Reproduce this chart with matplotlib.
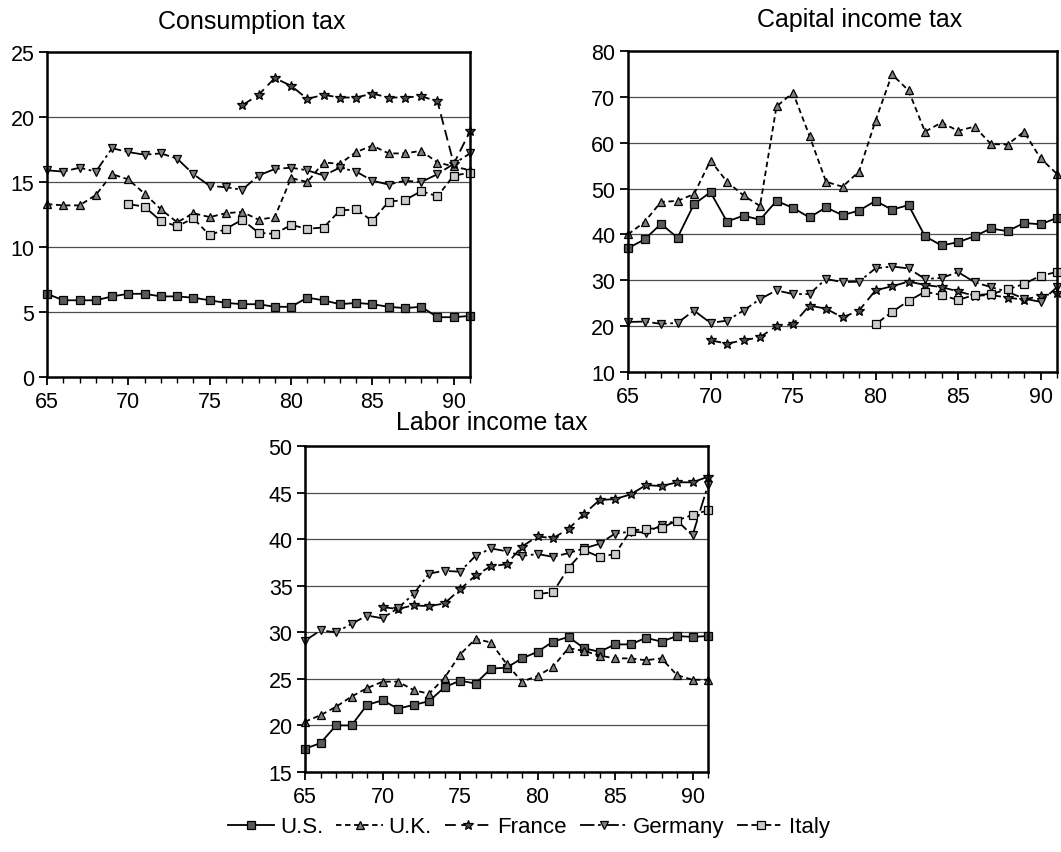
import matplotlib.pyplot as plt
import numpy as np
from matplotlib.ticker import MultipleLocator

plt.rcParams['font.family'] = ['Liberation Sans', 'DejaVu Sans']

# годы (65 = 1965)
years = np.arange(65, 92)
years_70 = np.arange(70, 92)
years_77 = np.arange(77, 92)
years_80 = np.arange(80, 92)

# Consumption tax
cons_us = [6.4, 5.9, 5.9, 5.9, 6.2, 6.4, 6.4, 6.2, 6.2, 6.1, 5.9, 5.7, 5.6, 5.6,
           5.4, 5.4, 6.1, 5.9, 5.6, 5.7, 5.6, 5.4, 5.3, 5.4, 4.6, 4.6, 4.7]
cons_uk = [13.3, 13.2, 13.2, 14.0, 15.6, 15.2, 14.1, 12.9, 11.9, 12.6, 12.3, 12.6,
           12.7, 12.1, 12.3, 15.3, 15.0, 16.5, 16.4, 17.3, 17.8, 17.2, 17.2, 17.4,
           16.5, 16.2, 15.9]
cons_fr = [20.9, 21.7, 23.0, 22.4, 21.4, 21.7, 21.5, 21.5, 21.8, 21.5, 21.5, 21.6,
           21.2, 16.4, 18.9]
cons_de = [15.9, 15.8, 16.1, 15.8, 17.6, 17.3, 17.1, 17.2, 16.8, 15.6, 14.7, 14.6,
           14.4, 15.5, 16.0, 16.1, 15.9, 15.5, 16.1, 15.8, 15.1, 14.8, 15.1, 15.0,
           15.6, 16.4, 17.2]
cons_it = [13.3, 13.1, 12.0, 11.6, 12.2, 10.9, 11.4, 12.1, 11.1, 11.0, 11.7, 11.4,
           11.5, 12.8, 12.9, 12.0, 13.5, 13.6, 14.3, 13.9, 15.5, 15.7]

# Capital income tax
cap_us = [37.0, 38.9, 42.3, 39.3, 46.6, 49.2, 42.8, 44.1, 43.2, 47.3, 45.8, 43.7,
          45.9, 44.2, 45.2, 47.3, 45.4, 46.4, 39.6, 37.6, 38.3, 39.6, 41.3, 40.7,
          42.5, 42.2, 43.6]
cap_uk = [40.0, 42.7, 47.1, 47.3, 48.8, 56.1, 51.5, 48.5, 46.2, 67.9, 70.9, 61.5,
          51.5, 50.4, 53.7, 64.8, 74.9, 71.4, 62.4, 64.4, 62.6, 63.5, 59.7, 59.6,
          62.4, 56.6, 53.2]
cap_fr = [16.9, 16.2, 16.9, 17.6, 20.0, 20.4, 24.5, 23.8, 21.9, 23.4, 27.8, 28.7,
          29.7, 29.0, 28.5, 27.6, 26.6, 26.8, 26.2, 25.8, 26.6, 27.2]
cap_de = [20.9, 21.0, 20.5, 20.7, 23.4, 20.7, 21.2, 23.4, 25.9, 27.8, 27.0, 27.0,
          30.3, 29.6, 29.7, 32.6, 33.0, 32.6, 30.3, 30.5, 31.8, 29.6, 28.5, 27.5,
          26.0, 25.3, 28.5]
cap_it = [20.4, 23.1, 25.5, 27.5, 26.8, 25.7, 26.8, 27.0, 28.0, 29.2, 31.0, 31.8]

# Labor income tax
lab_us = [17.5, 18.1, 20.0, 20.0, 22.2, 22.7, 21.8, 22.2, 22.6, 24.1, 24.8, 24.5,
          26.1, 26.2, 27.2, 27.9, 29.0, 29.5, 28.3, 27.9, 28.7, 28.7, 29.4, 29.0,
          29.6, 29.5, 29.6]
lab_uk = [20.4, 21.1, 22.0, 23.1, 24.0, 24.7, 24.7, 23.8, 23.4, 25.1, 27.6, 29.3,
          28.9, 26.6, 24.7, 25.3, 26.3, 28.3, 28.0, 27.5, 27.2, 27.2, 27.0, 27.2,
          25.4, 24.9, 24.9]
lab_fr = [32.7, 32.5, 32.9, 32.8, 33.1, 34.6, 36.1, 37.1, 37.3, 39.2, 40.3, 40.1,
          41.1, 42.7, 44.2, 44.3, 44.8, 45.8, 45.7, 46.1, 46.1, 46.7]
lab_de = [29.1, 30.2, 30.0, 30.9, 31.8, 31.5, 32.6, 34.1, 36.3, 36.6, 36.5, 38.2,
          39.0, 38.7, 38.2, 38.4, 38.1, 38.5, 39.0, 39.5, 40.6, 40.8, 40.7, 41.5,
          42.0, 40.4, 45.8]
lab_it = [34.1, 34.3, 36.9, 38.8, 38.1, 38.4, 40.9, 41.1, 41.2, 42.0, 42.6, 43.1]

countries = ["U.S.", "U.K.", "France", "Germany", "Italy"]

# стили линий для стран
styles = {
    "U.S.": dict(ls="-", marker="s", mfc="0.35"),
    "U.K.": dict(ls=(0, (3, 2)), marker="^", mfc="0.5"),
    "France": dict(ls=(0, (6, 3)), marker="*", mfc="0.3", ms=7.5),
    "Germany": dict(ls=(0, (8, 2, 1.5, 2)), marker="v", mfc="0.5"),
    "Italy": dict(ls=(0, (6, 2, 3, 2)), marker="s", mfc="0.8"),
}

W, H = 1061, 853
fig = plt.figure(figsize=(W / 100, H / 100), dpi=100)


def px_axes(left, top, right, bottom):
    return fig.add_axes([left / W, 1 - bottom / H, (right - left) / W, (bottom - top) / H])


def draw_panel(ax, series, ylim, ystep):
    for name, (x, y) in zip(countries, series):
        st = dict(styles[name])
        ms = st.pop("ms", 5.5)
        ax.plot(x, y, color="black", lw=1.3, mec="black", mew=0.9, ms=ms,
                clip_on=False, label=name, **st)
    ax.set_xlim(65, 91)
    ax.set_ylim(*ylim)
    ax.xaxis.set_major_locator(MultipleLocator(5))
    ax.xaxis.set_minor_locator(MultipleLocator(1))
    ax.yaxis.set_major_locator(MultipleLocator(ystep))
    ax.tick_params(axis="both", which="major", labelsize=15.5, direction="out",
                   length=6, width=1.3)
    ax.tick_params(axis="y", which="major", pad=3)
    ax.tick_params(axis="x", which="major", pad=4)
    ax.tick_params(axis="x", which="minor", direction="out", length=4, width=1.0)
    ax.tick_params(axis="y", which="minor", left=False)
    for yv in np.arange(ylim[0] + ystep, ylim[1], ystep):
        ax.axhline(yv, color="0.3", lw=0.9, zorder=0)
    for sp in ax.spines.values():
        sp.set_linewidth(1.8)


ax1 = px_axes(47, 53, 470, 378)
draw_panel(ax1, [(years, cons_us), (years, cons_uk), (years_77, cons_fr),
                 (years, cons_de), (years_70, cons_it)], (0, 25), 5)

ax2 = px_axes(628, 52, 1057, 373)
draw_panel(ax2, [(years, cap_us), (years, cap_uk), (years_70, cap_fr),
                 (years, cap_de), (years_80, cap_it)], (10, 80), 10)

ax3 = px_axes(305, 447, 708, 773)
draw_panel(ax3, [(years, lab_us), (years, lab_uk), (years_70, lab_fr),
                 (years, lab_de), (years_80, lab_it)], (15, 50), 5)

fig.text(252 / W, 1 - 28.5 / H, "Consumption tax", ha="center", va="baseline", fontsize=18)
fig.text(860 / W, 1 - 26.7 / H, "Capital income tax", ha="center", va="baseline", fontsize=18)
fig.text(492 / W, 1 - 430 / H, "Labor income tax", ha="center", va="baseline", fontsize=18)

handles, labels = ax3.get_legend_handles_labels()
fig.legend(handles, labels, loc="center", bbox_to_anchor=(529 / W, 1 - 828 / H),
           ncol=5, frameon=False, fontsize=16, handlelength=2.1,
           handletextpad=0.25, columnspacing=0.6, borderpad=0)

fig.savefig("out.png", dpi=100)
